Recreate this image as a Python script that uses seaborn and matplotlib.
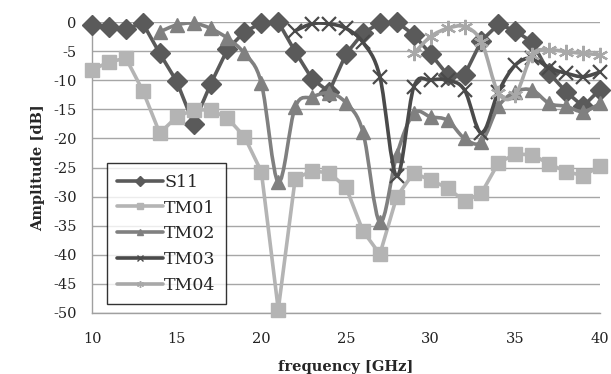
import numpy as np
import pandas as pd
import matplotlib
matplotlib.use("Agg")
import matplotlib.pyplot as plt
import seaborn as sns
from matplotlib.path import Path
from matplotlib.patches import PathPatch
from matplotlib.lines import Line2D

# ---- data ----
freq_s11 = list(range(10, 41))
s11 = [-0.5, -0.9, -1.2, -0.2, -5.4, -10.2, -17.5, -10.7, -4.7, -1.7, -0.2, 0.0,
       -5.1, -9.8, -12.0, -5.5, -1.9, -0.2, 0.0, -2.2, -5.5, -9.1, -9.1, -3.2,
       -0.4, -1.5, -3.5, -8.8, -12.0, -14.5, -11.6]
freq_tm01 = list(range(10, 41))
tm01 = [-8.2, -6.9, -6.2, -11.8, -19.1, -16.3, -15.1, -15.1, -16.5, -19.7, -25.7,
        -49.4, -26.9, -25.6, -25.9, -28.4, -35.9, -39.9, -30.0, -25.9, -27.2,
        -28.5, -30.8, -29.4, -24.2, -22.7, -22.8, -24.4, -25.7, -26.4, -24.8]
freq_tm02 = list(range(14, 41))
tm02 = [-1.7, -0.5, -0.2, -1.1, -2.8, -5.4, -10.5, -27.5, -14.6, -12.9, -12.2,
        -13.9, -18.9, -34.4, -22.8, -15.7, -16.3, -16.9, -20.0, -20.6, -14.5,
        -12.0, -11.7, -14.0, -14.5, -15.4, -14.0]
freq_tm03 = list(range(22, 41))
tm03 = [-1.5, -0.3, -0.3, -1.1, -3.5, -9.4, -26.5, -11.2, -10.0, -10.0, -11.7,
        -19.1, -12.0, -7.4, -6.2, -7.9, -8.8, -9.4, -8.6]
freq_tm04 = list(range(29, 41))
tm04 = [-5.4, -2.5, -1.1, -0.8, -3.4, -12.2, -12.5, -5.6, -4.8, -5.1, -5.4, -5.6]

x_ticks = [10, 15, 20, 25, 30, 35, 40]
y_ticks = [0, -5, -10, -15, -20, -25, -30, -35, -40, -45, -50]

series = [
    ("S11", freq_s11, s11, "#5a5a5a", "D", False),
    ("TM01", freq_tm01, tm01, "#b4b4b4", "s", False),
    ("TM02", freq_tm02, tm02, "#808080", "^", True),
    ("TM03", freq_tm03, tm03, "#4a4a4a", "x", True),
    ("TM04", freq_tm04, tm04, "#a8a8a8", (6, 2, 0), True),
]

sns.set_theme(style="white")
plt.rcParams["font.family"] = ["DejaVu Serif"]
plt.rcParams["axes.unicode_minus"] = False

fig = plt.figure(figsize=(6.11, 3.74), dpi=100)
ax = fig.add_axes([92 / 611, 1 - 313 / 374, 508 / 611, 291 / 374])


def smooth_path(xs, ys, k=1 / 6):
    pts = np.column_stack([xs, ys]).astype(float)
    n = len(pts)
    verts = [pts[0]]
    codes = [Path.MOVETO]
    for i in range(n - 1):
        p0 = pts[i - 1] if i > 0 else pts[i]
        p1 = pts[i]
        p2 = pts[i + 1]
        p3 = pts[i + 2] if i + 2 < n else pts[i + 1]
        c1 = p1 + (p2 - p0) * k
        c2 = p2 - (p3 - p1) * k
        verts += [c1, c2, p2]
        codes += [Path.CURVE4] * 3
    return Path(verts, codes)


handles = []
for z, (name, xs, ys, col, mk, smooth) in enumerate(series):
    df = pd.DataFrame({"freq": xs, "amp": ys})
    ms = 10 if isinstance(mk, str) else 11
    mew = 1.6 if mk == "x" or isinstance(mk, tuple) else 1.0
    if smooth:
        patch = PathPatch(smooth_path(xs, ys), facecolor="none", edgecolor=col,
                          lw=2.6, zorder=3 + z * 2, capstyle="round")
        ax.add_patch(patch)
        ax.plot(df["freq"], df["amp"], linestyle="none", marker=mk, ms=ms,
                color=col, mec=col, mew=mew, zorder=4 + z * 2, clip_on=False)
    else:
        sns.lineplot(data=df, x="freq", y="amp", ax=ax, color=col, lw=2.6,
                     marker=mk, markersize=ms, markeredgecolor=col, mew=mew,
                     zorder=3 + z * 2, clip_on=False)
    handles.append(Line2D([0], [0], color=col, lw=2.6, marker=mk, ms=5,
                          mec=col, mew=1.0, label=name))

ax.set_xlim(10, 40)
ax.set_ylim(-50, 0)
ax.set_xticks(x_ticks)
ax.set_yticks(y_ticks)
ax.set_xticklabels([str(v) for v in x_ticks])
ax.set_yticklabels([str(v) for v in y_ticks])
ax.tick_params(axis="both", length=0, labelsize=10.5, colors="#222222")
ax.tick_params(axis="x", pad=14)
ax.tick_params(axis="y", pad=11)
ax.grid(axis="y", color="#a6a6a6", lw=1.0)
ax.grid(axis="x", visible=False)
for s in ["top", "right"]:
    ax.spines[s].set_visible(False)
for s in ["left", "bottom"]:
    ax.spines[s].set_color("#a0a0a0")
    ax.spines[s].set_linewidth(1.0)
ax.set_xlabel("frequency [GHz]", fontsize=10.5, fontweight="bold", labelpad=9.5)
ax.set_ylabel("Amplitude [dB]", fontsize=10.5, fontweight="bold", labelpad=6)

leg = ax.legend(handles=handles, loc="lower left",
                bbox_to_anchor=(15 / 508, 9 / 291), fontsize=12.5,
                frameon=True, fancybox=False, edgecolor="black",
                handlelength=2.6, handletextpad=0.1, labelspacing=0.5,
                borderpad=0.6, borderaxespad=0)
leg.get_frame().set_linewidth(1.0)
leg.set_zorder(20)

fig.savefig("out.png", dpi=100)
